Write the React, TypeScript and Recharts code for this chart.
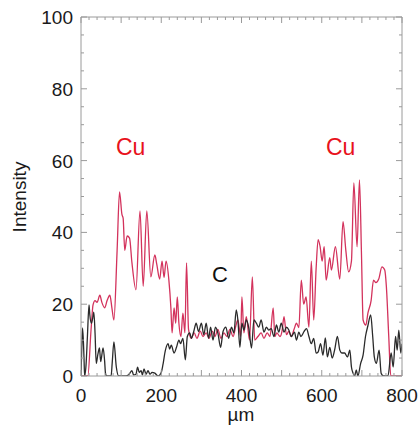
import React from 'react';
import { LineChart, Line, XAxis, YAxis } from 'recharts';

// Cu profile (red), positions in µm
const cuPos = [
  0, 17, 25, 30, 35, 40, 47, 52, 59, 65, 72, 77, 82, 90, 96, 102, 105, 109, 115, 121,
  127, 137, 147, 155, 164, 174, 184, 189, 196, 202, 207, 212, 219, 224, 227, 232, 236, 240,
  244, 249, 254, 259, 263, 268, 275, 282, 289, 297, 304, 312, 319, 327, 334, 341, 349,
  356, 364, 371, 379, 386, 391, 398, 401, 406, 412, 420, 427, 433, 441, 449, 456, 464,
  471, 479, 483, 488, 496, 501, 506, 512, 518, 524, 531, 537, 543, 549, 555, 561, 568,
  574, 580, 586, 591, 596, 601, 606, 611, 620, 624, 634, 645, 653, 660, 667, 674, 680,
  688, 694, 699, 703, 710, 715, 723, 729, 735, 742, 750, 757, 761, 767, 772, 800,
];
const cuVal = [
  0, 0, 12.8, 19.8, 21, 20.5, 22.5, 20.5, 19, 21, 22.5, 19, 15.6, 35, 51.3, 45, 44, 35, 39, 38.4,
  31.5, 24, 46, 25, 46, 27.6, 33.7, 31, 27, 32, 27.5, 32, 26.7, 19, 12, 19, 14.7, 22,
  14.7, 11, 17.5, 12, 31.5, 13, 10.5, 12, 10.5, 12.5, 11, 12, 10.5, 12.5, 11, 13, 10.5,
  12, 11, 13, 11, 14, 15.6, 11, 22, 12, 16.5, 10, 27.6, 10, 11, 12, 10.5, 12,
  11, 19, 11, 12, 11, 12.5, 16.5, 11.5, 12.5, 11, 13, 14.7, 13.5, 26.7, 20, 22, 13.6,
  32, 15.6, 30, 38, 36, 32, 36, 26.7, 33, 29.5, 36, 27, 43, 35, 29, 32, 53.8,
  36, 54.6, 34, 15.6, 14.2, 17.5, 21, 26.7, 26, 27, 30.4, 29.5, 25, 11, 0, 0,
];

// C profile (black)
const cPos = [
  0, 2, 4, 7.5, 9, 12.5, 16, 20, 22, 26, 29, 32, 35, 38, 42, 46, 49, 55, 59, 61,
  64, 75, 78, 82, 88, 94, 112, 120, 127, 131, 137, 141, 145, 150, 153, 157, 162, 167,
  172, 177, 184, 192, 200, 204, 210, 217, 221, 225, 232, 238, 244, 248, 254, 260, 265,
  271, 275, 281, 287, 293, 300, 306, 312, 318, 323, 329, 335, 341, 348, 354, 361, 368,
  375, 381, 387, 391, 396, 401, 406, 412, 418, 425, 431, 437, 443, 449, 456, 462, 468,
  474, 481, 487, 493, 499, 506, 512, 518, 524, 532, 537, 543, 548, 556, 562, 568, 574,
  580, 586, 591, 597, 603, 609, 614, 620, 626, 632, 639, 645, 650, 657, 664, 670, 674,
  678, 682, 686, 690, 697, 703, 709, 715, 722, 727, 731, 736, 743, 748, 754, 765, 773,
  778, 784, 788, 792, 797, 800,
];
const cVal = [
  0, 8, 13.4, 5, 0, 3, 11, 19.8, 17, 14.7, 16, 17.8, 12, 3.5, 6, 7.8, 4, 7.8, 4, 0.8,
  0, 0, 4, 9.5, 2.5, 0, 0, 0.5, 1.5, 0.3, 0.5, 2.5, 1, 1.5, 0.3, 2, 0.5, 1.5,
  0.5, 1, 0.8, 0, 1, 3, 7, 9, 7.5, 8.6, 6.4, 8, 10, 9, 10.5, 4.5, 11,
  12, 10.5, 12.4, 14.7, 12.4, 14.7, 11.5, 14.7, 10.5, 13.6, 10, 13.6, 12, 8, 12.4, 13.6, 10.5,
  13.6, 12, 18.4, 15.6, 8, 14.7, 12.8, 15.6, 13.5, 7.8, 15.6, 14.7, 13.6, 15.6, 12.2, 13.6, 12.8,
  13.2, 11, 14.2, 12.2, 14.7, 12.2, 13.6, 12.8, 11, 12.2, 10, 12.2, 11, 12.4, 13.2, 11, 9,
  10.5, 6.4, 6.7, 9, 5.8, 10.6, 5.3, 8, 5, 7.2, 11, 7.2, 6.4, 6.4, 5.3, 7.2, 2.5,
  0.8, 0, 1.7, 0, 3.5, 5.8, 11, 14, 17, 11, 5.3, 3.5, 7.2, 0.8, 0, 0, 6.4,
  2.5, 11, 7.2, 12.8, 6.4, 9,
];

const xTicks = Array.from({ length: 41 }, (_, i) => i * 20);
const yTicks = Array.from({ length: 21 }, (_, i) => i * 5);

const cuData = cuPos.map((x, i) => ({ x, v: cuVal[i] }));
const cData = cPos.map((x, i) => ({ x, v: cVal[i] }));

const frame = '#9a9a9a';
const font = '"Liberation Sans", Arial, sans-serif';
const W = 419;
const H = 428;

const BottomTick = (props: any) => {
  const { x, y, payload } = props;
  const v = payload.value;
  const len = v % 100 === 0 ? 6 : 3;
  return (
    <g>
      <line x1={x} y1={y} x2={x} y2={y - len} stroke={frame} />
      {v % 200 === 0 && (
        <text x={x} y={y + 26} textAnchor="middle" fontSize={19} fill="#1a1a1a" fontFamily={font}>
          {v}
        </text>
      )}
    </g>
  );
};

const TopTick = (props: any) => {
  const { x, y, payload } = props;
  const len = payload.value % 100 === 0 ? 6 : 3;
  return <line x1={x} y1={y} x2={x} y2={y + len} stroke={frame} />;
};

const LeftTick = (props: any) => {
  const { x, y, payload } = props;
  const v = payload.value;
  const len = v % 20 === 0 ? 6 : 3;
  return (
    <g>
      <line x1={x} y1={y} x2={x + len} y2={y} stroke={frame} />
      {v % 20 === 0 && (
        <text x={x - 8} y={y + 7} textAnchor="end" fontSize={19} fill="#1a1a1a" fontFamily={font}>
          {v}
        </text>
      )}
    </g>
  );
};

const RightTick = (props: any) => {
  const { x, y, payload } = props;
  const len = payload.value % 20 === 0 ? 6 : 3;
  return <line x1={x} y1={y} x2={x - len} y2={y} stroke={frame} />;
};

export default function App() {
  return (
    <div style={{ position: 'absolute', left: 0, top: 0, width: W, height: H, background: '#fff' }}>
      <LineChart width={W} height={H} margin={{ top: 16, right: 16, bottom: 51, left: 80 }}>
        <XAxis
          xAxisId="b"
          type="number"
          dataKey="x"
          domain={[0, 800]}
          ticks={xTicks}
          interval={0}
          height={1}
          tickSize={0}
          tickMargin={0}
          tickLine={false}
          axisLine={{ stroke: frame }}
          tick={BottomTick}
          allowDataOverflow
        />
        <XAxis
          xAxisId="t"
          orientation="top"
          type="number"
          dataKey="x"
          domain={[0, 800]}
          ticks={xTicks}
          interval={0}
          height={1}
          tickSize={0}
          tickMargin={0}
          tickLine={false}
          axisLine={{ stroke: frame }}
          tick={TopTick}
          allowDataOverflow
        />
        <YAxis
          yAxisId="l"
          type="number"
          domain={[0, 100]}
          ticks={yTicks}
          interval={0}
          width={1}
          tickSize={0}
          tickMargin={0}
          tickLine={false}
          axisLine={{ stroke: frame }}
          tick={LeftTick}
          allowDataOverflow
        />
        <YAxis
          yAxisId="r"
          orientation="right"
          type="number"
          domain={[0, 100]}
          ticks={yTicks}
          interval={0}
          width={1}
          tickSize={0}
          tickMargin={0}
          tickLine={false}
          axisLine={{ stroke: frame }}
          tick={RightTick}
          allowDataOverflow
        />
        <Line
          xAxisId="b"
          yAxisId="l"
          data={cuData}
          dataKey="v"
          type="monotone"
          stroke="#d3325c"
          strokeWidth={1.3}
          dot={false}
          isAnimationActive={false}
        />
        <Line
          xAxisId="b"
          yAxisId="l"
          data={cData}
          dataKey="v"
          type="monotone"
          stroke="#2a2a2a"
          strokeWidth={1.3}
          dot={false}
          isAnimationActive={false}
        />
        <Line
          xAxisId="t"
          yAxisId="r"
          data={cData}
          dataKey="v"
          stroke="none"
          dot={false}
          legendType="none"
          isAnimationActive={false}
        />
      </LineChart>
      <svg
        width={W}
        height={H}
        style={{ position: 'absolute', left: 0, top: 0, pointerEvents: 'none' }}
        fontFamily={font}
      >
        <text x={116} y={155} fontSize={23} fill="#e8121c">Cu</text>
        <text x={326} y={155} fontSize={23} fill="#e8121c">Cu</text>
        <text x={212} y={282} fontSize={22} fill="#111">C</text>
        <text
          x={26}
          y={197}
          fontSize={19}
          fill="#1a1a1a"
          textAnchor="middle"
          transform="rotate(-90 26 197)"
        >
          Intensity
        </text>
        <text x={241} y={421} fontSize={19} fill="#1a1a1a" textAnchor="middle">µm</text>
      </svg>
    </div>
  );
}
